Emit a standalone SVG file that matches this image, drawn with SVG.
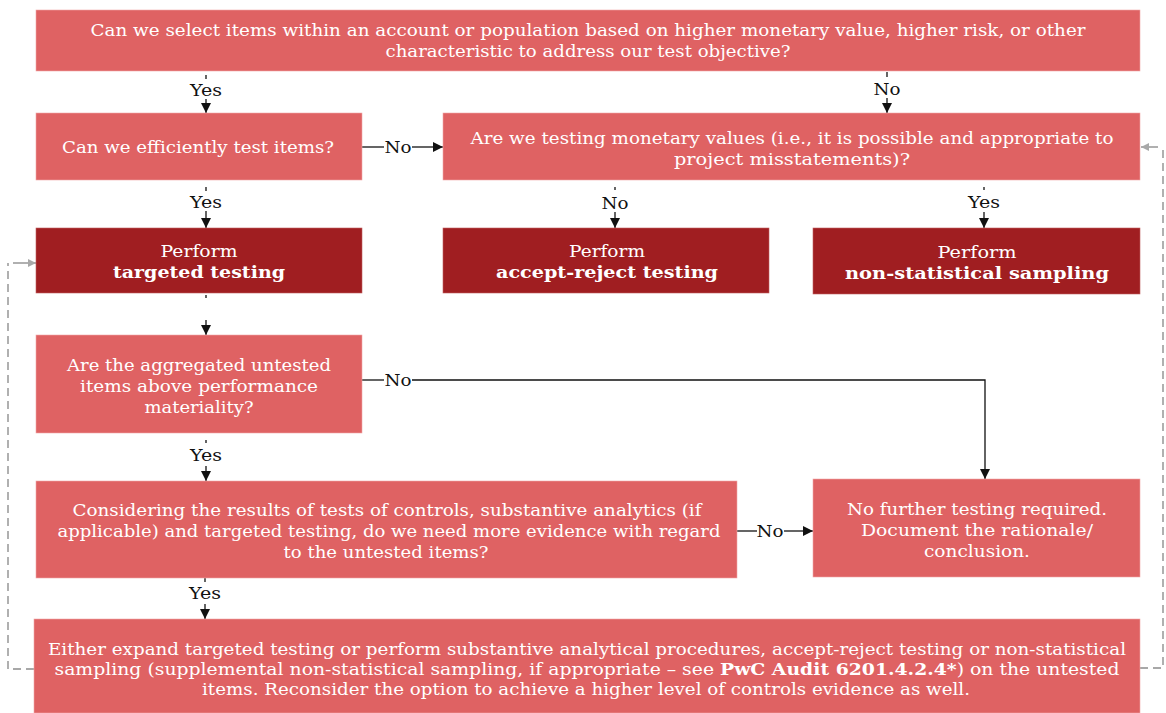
<svg xmlns="http://www.w3.org/2000/svg" width="1166" height="713" viewBox="0 0 1166 713">
<style>
.lt{fill:#DF6263;stroke:#F0A8A8;stroke-width:0.6}
.dk{fill:#A01E21;stroke:#C06060;stroke-width:0.6}
.t{font-family:"DejaVu Serif","Liberation Serif",serif;font-size:16.5px;fill:#FFFFFF;text-anchor:middle}
.b{font-weight:bold}
.lab{font-family:"DejaVu Serif","Liberation Serif",serif;font-size:16.5px;fill:#111;text-anchor:middle}
.ln{stroke:#111;stroke-width:1.3;fill:none}
.dash{stroke:#A8A8A8;stroke-width:1.8;fill:none;stroke-dasharray:8 5}
.gl{stroke:#A8A8A8;stroke-width:1.8;fill:none}
</style>
<defs>
<marker id="ah" viewBox="0 0 10 10" refX="10" refY="5" markerWidth="11" markerHeight="10" markerUnits="userSpaceOnUse" orient="auto"><path d="M0,0 L10,5 L0,10 z" fill="#111"/></marker>
<marker id="ag" viewBox="0 0 10 10" refX="10" refY="5" markerWidth="9" markerHeight="8" markerUnits="userSpaceOnUse" orient="auto"><path d="M0,0 L10,5 L0,10 z" fill="#A8A8A8"/></marker>
</defs>
<rect width="1166" height="713" fill="#FFFFFF"/>

<g id="connectors">
<path class="ln" d="M206,75 V79"/>
<path class="ln" d="M206,99 V113" marker-end="url(#ah)"/>
<text class="lab" x="206" y="95.5" textLength="32" lengthAdjust="spacingAndGlyphs">Yes</text>
<path class="ln" d="M887,72 V77"/>
<path class="ln" d="M887,98 V113" marker-end="url(#ah)"/>
<text class="lab" x="887" y="94.5" textLength="27" lengthAdjust="spacingAndGlyphs">No</text>
<path class="ln" d="M362,147 H384"/>
<path class="ln" d="M412,147 H443" marker-end="url(#ah)"/>
<text class="lab" x="398" y="153" textLength="27" lengthAdjust="spacingAndGlyphs">No</text>
<path class="ln" d="M206,187 V191"/>
<path class="ln" d="M206,211 V228" marker-end="url(#ah)"/>
<text class="lab" x="206" y="207.5" textLength="32" lengthAdjust="spacingAndGlyphs">Yes</text>
<path class="ln" d="M615,187 V190"/>
<path class="ln" d="M615,212 V228" marker-end="url(#ah)"/>
<text class="lab" x="615" y="208.5" textLength="27" lengthAdjust="spacingAndGlyphs">No</text>
<path class="ln" d="M984,187 V190"/>
<path class="ln" d="M984,212 V228" marker-end="url(#ah)"/>
<text class="lab" x="984" y="207.5" textLength="32" lengthAdjust="spacingAndGlyphs">Yes</text>
<path class="ln" d="M206,295 V298"/>
<path class="ln" d="M206,320 V335" marker-end="url(#ah)"/>
<path class="ln" d="M362,380 H384"/>
<path class="ln" d="M412,380 H985 V479" marker-end="url(#ah)"/>
<text class="lab" x="398" y="386" textLength="27" lengthAdjust="spacingAndGlyphs">No</text>
<path class="ln" d="M206,440 V443"/>
<path class="ln" d="M206,466 V481" marker-end="url(#ah)"/>
<text class="lab" x="206" y="460.5" textLength="32" lengthAdjust="spacingAndGlyphs">Yes</text>
<path class="ln" d="M737,531 H757"/>
<path class="ln" d="M784,531 H813" marker-end="url(#ah)"/>
<text class="lab" x="770" y="537" textLength="27" lengthAdjust="spacingAndGlyphs">No</text>
<path class="ln" d="M205,578 V582"/>
<path class="ln" d="M205,604 V619" marker-end="url(#ah)"/>
<text class="lab" x="205" y="598.5" textLength="32" lengthAdjust="spacingAndGlyphs">Yes</text>
<path class="dash" d="M34,669 H8 V263"/>
<path class="gl" d="M13,263 H36" marker-end="url(#ag)"/>
<path class="dash" d="M1140,668 H1163 V147"/>
<path class="gl" d="M1158,147 H1141" marker-end="url(#ag)"/>
</g>

<g id="n1">
<rect class="lt" x="36" y="10" width="1104" height="61"/>
<text class="t" x="588" y="35.5" textLength="995" lengthAdjust="spacingAndGlyphs">Can we select items within an account or population based on higher monetary value, higher risk, or other</text>
<text class="t" x="588" y="56.5" textLength="405" lengthAdjust="spacingAndGlyphs">characteristic to address our test objective?</text>
</g>
<g id="n2">
<rect class="lt" x="36" y="113" width="326" height="67"/>
<text class="t" x="198" y="152.5" textLength="272" lengthAdjust="spacingAndGlyphs">Can we efficiently test items?</text>
</g>
<g id="n3">
<rect class="lt" x="443" y="113" width="697" height="67"/>
<text class="t" x="792" y="143.5" textLength="643" lengthAdjust="spacingAndGlyphs">Are we testing monetary values (i.e., it is possible and appropriate to</text>
<text class="t" x="792" y="164.5" textLength="236" lengthAdjust="spacingAndGlyphs">project misstatements)?</text>
</g>
<g id="n4">
<rect class="dk" x="36" y="228" width="326" height="65"/>
<text class="t" x="199" y="256.5" textLength="77" lengthAdjust="spacingAndGlyphs">Perform</text>
<text class="t b" x="199" y="277.5" textLength="172" lengthAdjust="spacingAndGlyphs">targeted testing</text>
</g>
<g id="n5">
<rect class="dk" x="443" y="228" width="326" height="65"/>
<text class="t" x="607" y="256.5" textLength="76" lengthAdjust="spacingAndGlyphs">Perform</text>
<text class="t b" x="607" y="277.5" textLength="222" lengthAdjust="spacingAndGlyphs">accept-reject testing</text>
</g>
<g id="n6">
<rect class="dk" x="813" y="228" width="327" height="66"/>
<text class="t" x="977" y="257.5" textLength="79" lengthAdjust="spacingAndGlyphs">Perform</text>
<text class="t b" x="977" y="278.5" textLength="264" lengthAdjust="spacingAndGlyphs">non-statistical sampling</text>
</g>
<g id="n7">
<rect class="lt" x="36" y="335" width="326" height="98"/>
<text class="t" x="199" y="370.5" textLength="264" lengthAdjust="spacingAndGlyphs">Are the aggregated untested</text>
<text class="t" x="199" y="391.5" textLength="238" lengthAdjust="spacingAndGlyphs">items above performance</text>
<text class="t" x="199" y="412.5" textLength="109" lengthAdjust="spacingAndGlyphs">materiality?</text>
</g>
<g id="n8">
<rect class="lt" x="36" y="481" width="701" height="97"/>
<text class="t" x="387" y="515.5" textLength="629" lengthAdjust="spacingAndGlyphs">Considering the results of tests of controls, substantive analytics (if</text>
<text class="t" x="389" y="536.5" textLength="663" lengthAdjust="spacingAndGlyphs">applicable) and targeted testing, do we need more evidence with regard</text>
<text class="t" x="386" y="557.5" textLength="205" lengthAdjust="spacingAndGlyphs">to the untested items?</text>
</g>
<g id="n9">
<rect class="lt" x="813" y="479" width="327" height="98"/>
<text class="t" x="977" y="514.5" textLength="260" lengthAdjust="spacingAndGlyphs">No further testing required.</text>
<text class="t" x="977" y="535.5" textLength="232" lengthAdjust="spacingAndGlyphs">Document the rationale/</text>
<text class="t" x="977" y="556.5" textLength="106" lengthAdjust="spacingAndGlyphs">conclusion.</text>
</g>
<g id="n10">
<rect class="lt" x="34" y="619" width="1106" height="94"/>
<text class="t" x="587" y="654.5" textLength="1078" lengthAdjust="spacingAndGlyphs">Either expand targeted testing or perform substantive analytical procedures, accept-reject testing or non-statistical</text>
<text class="t" x="587" y="674.5" textLength="1065" lengthAdjust="spacingAndGlyphs">sampling (supplemental non-statistical sampling, if appropriate – see <tspan class="b">PwC Audit 6201.4.2.4*</tspan>) on the untested</text>
<text class="t" x="586" y="694.5" textLength="768" lengthAdjust="spacingAndGlyphs">items. Reconsider the option to achieve a higher level of controls evidence as well.</text>
</g>
</svg>
